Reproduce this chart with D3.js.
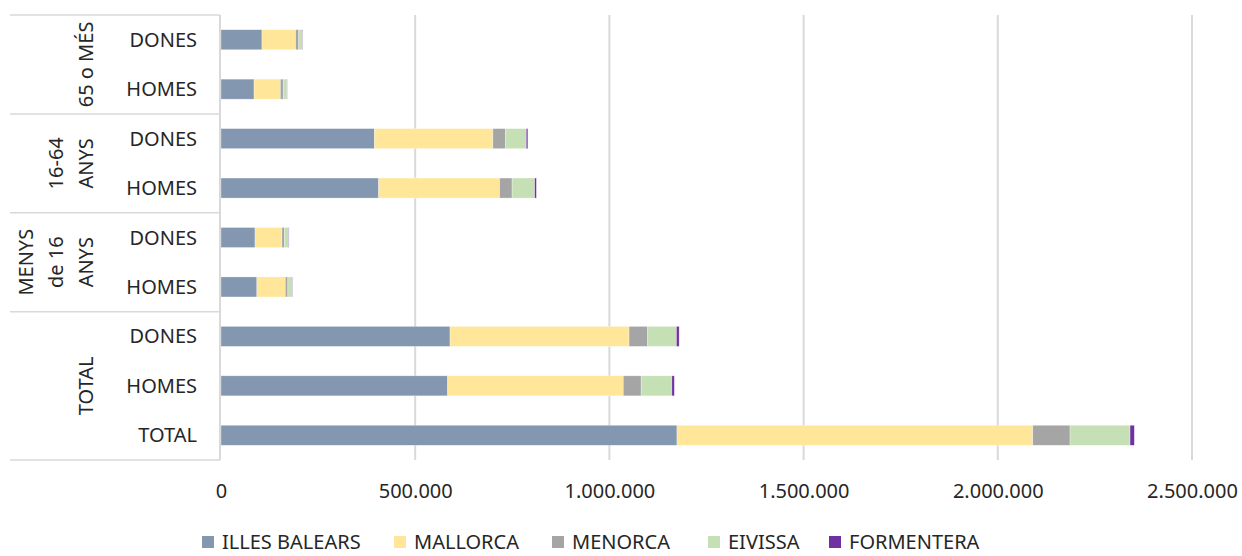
<!DOCTYPE html>
<html>
<head>
<meta charset="utf-8">
<script src="https://cdn.jsdelivr.net/npm/d3@7"></script>
<style>
  body { margin: 0; background: #fff; }
  text { font-family: "Noto Sans", sans-serif; fill: #262626; }
</style>
</head>
<body>
<div id="chart"></div>
<script>
// rows, top to bottom
const rowLabels = ['DONES', 'HOMES', 'DONES', 'HOMES', 'DONES', 'HOMES', 'DONES', 'HOMES', 'TOTAL'];
const rowGroups = ['g65', 'g65', 'g1664', 'g1664', 'g16', 'g16', 'gT', 'gT', 'gT'];
const groupKeys = ['g65', 'g1664', 'g16', 'gT'];
const groupLines = [['65 o MÉS'], ['16-64', 'ANYS'], ['MENYS', 'de 16', 'ANYS'], ['TOTAL']];

const seriesNames = ['ILLES BALEARS', 'MALLORCA', 'MENORCA', 'EIVISSA', 'FORMENTERA'];
const illesBalears = [105500, 85200, 395000, 406000, 87600, 92400, 589700, 583600, 1174000];
const mallorca = [86600, 67600, 305000, 311300, 69300, 73200, 460900, 452100, 916000];
const menorca = [8100, 7400, 32300, 32200, 6200, 6500, 48000, 46100, 96000];
const eivissa = [9900, 9400, 53600, 58000, 11000, 11600, 74000, 79000, 154500];
const formentera = [900, 800, 4100, 4500, 1100, 1100, 7000, 6400, 11000];
const xTicks = [0, 500000, 1000000, 1500000, 2000000, 2500000];

const colors = ['#8497b0', '#ffe699', '#a5a5a5', '#c5e0b4', '#7030a0'];

const W = 1242, H = 556;
const plot = { left: 221, right: 1192, top: 15, bottom: 460 };

const rows = rowLabels.map((lab, i) => ({
    id: i, label: lab, group: rowGroups[i],
    'ILLES BALEARS': illesBalears[i], 'MALLORCA': mallorca[i], 'MENORCA': menorca[i],
    'EIVISSA': eivissa[i], 'FORMENTERA': formentera[i]
}));

const svg = d3.select('#chart').append('svg')
    .attr('width', W).attr('height', H);

const x = d3.scaleLinear().domain([0, 2500000]).range([plot.left, plot.right]);
const y = d3.scaleBand().domain(rows.map(d => d.id))
    .range([plot.top, plot.bottom])
    .paddingInner(0.595).paddingOuter(0.2975);
const color = d3.scaleOrdinal().domain(seriesNames).range(colors);

const loc = d3.formatLocale({ decimal: ',', thousands: '.', grouping: [3], currency: ['', '€'] });
const fmt = loc.format(',d');

// gridlines
svg.append('g').selectAll('line').data(xTicks.slice(1)).join('line')
    .attr('x1', d => x(d)).attr('x2', d => x(d))
    .attr('y1', plot.top).attr('y2', plot.bottom)
    .attr('stroke', '#d9d9d9').attr('stroke-width', 2);

// x axis labels
const xAxis = svg.append('g')
    .attr('transform', `translate(0,${plot.bottom + 8})`)
    .call(d3.axisBottom(x).tickValues(xTicks).tickFormat(fmt).tickSize(0).tickPadding(16));
xAxis.select('.domain').remove();
xAxis.selectAll('text').style('font-size', '20px').style('font-family', '"Noto Sans", sans-serif').attr('fill', '#262626');

// stacked bars
const stack = d3.stack().keys(seriesNames);
const layers = stack(rows);
svg.append('g').selectAll('g').data(layers).join('g')
    .attr('fill', d => color(d.key))
    .selectAll('rect').data(d => d).join('rect')
    .attr('x', d => x(d[0]))
    .attr('width', d => x(d[1]) - x(d[0]))
    .attr('y', d => y(d.data.id))
    .attr('height', y.bandwidth())
    .attr('stroke', '#fff').attr('stroke-opacity', 0.5).attr('stroke-width', 0.6);

// category axis line
svg.append('line')
    .attr('x1', plot.left - 1).attr('x2', plot.left - 1)
    .attr('y1', plot.top).attr('y2', plot.bottom)
    .attr('stroke', '#d9d9d9').attr('stroke-width', 2);

// group separators in label area
const step = y.step();
const bounds = [0];
groupKeys.forEach(g => bounds.push(bounds[bounds.length - 1] + rowGroups.filter(r => r === g).length));
svg.append('g').selectAll('line').data(bounds).join('line')
    .attr('x1', 10).attr('x2', plot.left - 1)
    .attr('y1', d => plot.top + d * step).attr('y2', d => plot.top + d * step)
    .attr('stroke', '#d9d9d9').attr('stroke-width', 1.5);

// inner row labels
svg.append('g').selectAll('text').data(rows).join('text')
    .attr('x', 197)
    .attr('y', d => y(d.id) + y.bandwidth() / 2)
    .attr('dy', '0.35em')
    .attr('text-anchor', 'end')
    .style('font-size', '20px')
    .text(d => d.label);

// outer group labels (rotated)
groupKeys.forEach((g, gi) => {
    const cy = plot.top + (bounds[gi] + bounds[gi + 1]) / 2 * step;
    const lines = groupLines[gi];
    lines.forEach((ln, li) => {
        const cx = 86 - (lines.length - 1 - li) * 30;
        svg.append('text')
            .attr('transform', `translate(${cx},${cy}) rotate(-90)`)
            .attr('dy', '0.35em')
            .attr('text-anchor', 'middle')
            .style('font-size', '20px')
            .text(ln);
    });
});

// legend
const legendX = [202, 394, 552, 708, 829];
const legend = svg.append('g').selectAll('g').data(seriesNames).join('g')
    .attr('transform', (d, i) => `translate(${legendX[i]},542)`);
legend.append('rect')
    .attr('x', 0).attr('y', -6).attr('width', 12).attr('height', 12)
    .attr('fill', d => color(d));
legend.append('text')
    .attr('x', 20).attr('dy', '0.35em')
    .style('font-size', '20px')
    .text(d => d);
</script>
</body>
</html>
